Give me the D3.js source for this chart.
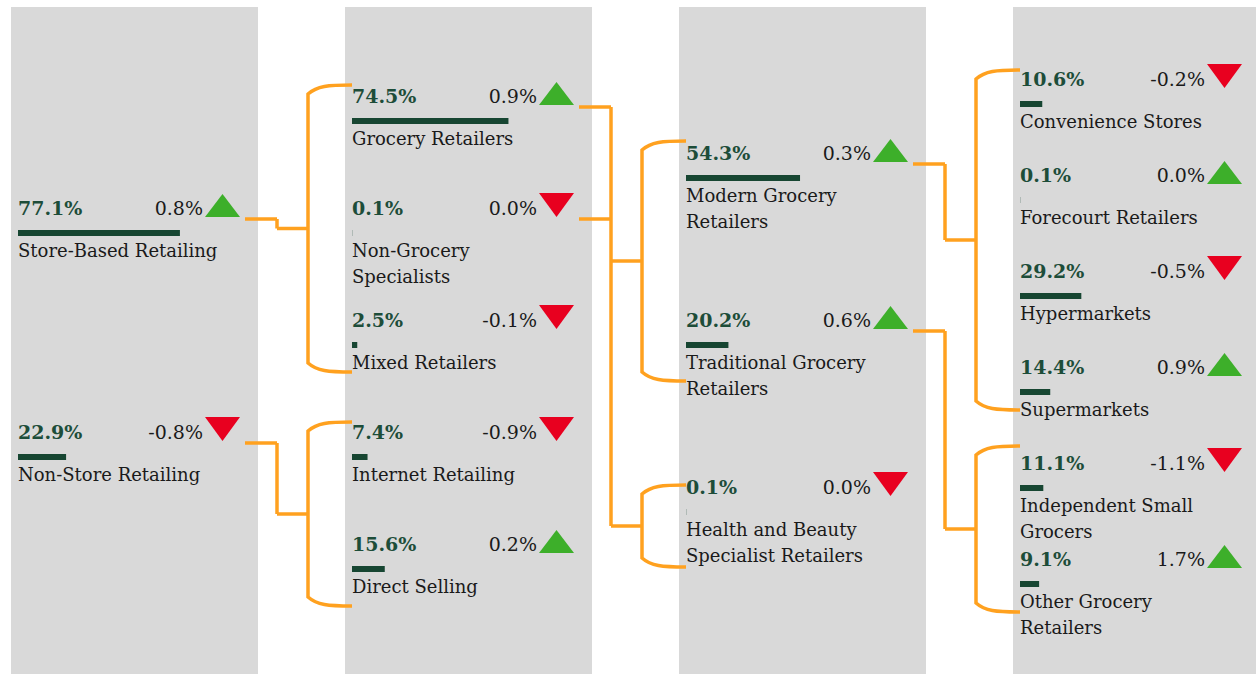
<!DOCTYPE html>
<html>
<meta charset="utf-8">
<style>
  body { margin: 0; background: #fff; }
  svg { display: block; }
  .share { font-family: "DejaVu Serif", serif; font-weight: bold; font-size: 19px; fill: #1d4d39; }
  .change { font-family: "DejaVu Serif", serif; font-size: 19px; fill: #1a1a1a; }
  .label { font-family: "DejaVu Serif", serif; font-size: 18px; fill: #1a1a1a; }
  .link { fill: none; stroke: #ffa11f; stroke-width: 3.5; }
</style>
<body>
<script src="https://cdnjs.cloudflare.com/ajax/libs/d3/7.8.5/d3.min.js"></script>
<script>
// Data, one set of arrays per column of the tree.
var col1Names = ["Store-Based Retailing", "Non-Store Retailing"];
var col1Shares = [77.1, 22.9];
var col1Changes = [0.8, -0.8];
var col1Trend = ["up", "down"];

var col2Names = ["Grocery Retailers", "Non-Grocery\nSpecialists", "Mixed Retailers", "Internet Retailing", "Direct Selling"];
var col2Shares = [74.5, 0.1, 2.5, 7.4, 15.6];
var col2Changes = [0.9, 0.0, -0.1, -0.9, 0.2];
var col2Trend = ["up", "down", "down", "down", "up"];

var col3Names = ["Modern Grocery\nRetailers", "Traditional Grocery\nRetailers", "Health and Beauty\nSpecialist Retailers"];
var col3Shares = [54.3, 20.2, 0.1];
var col3Changes = [0.3, 0.6, 0.0];
var col3Trend = ["up", "up", "down"];

var col4Names = ["Convenience Stores", "Forecourt Retailers", "Hypermarkets", "Supermarkets", "Independent Small\nGrocers", "Other Grocery\nRetailers"];
var col4Shares = [10.6, 0.1, 29.2, 14.4, 11.1, 9.1];
var col4Changes = [-0.2, 0.0, -0.5, 0.9, -1.1, 1.7];
var col4Trend = ["down", "up", "down", "up", "down", "up"];

// Which nodes feed which bracket of children: [parent column, parent rows, child rows]
var links = [
  [0, [0], [[0, 1, 2]]],
  [0, [1], [[3, 4]]],
  [1, [0, 1], [[0, 1], [2]]],
  [2, [0], [[0, 1, 2, 3]]],
  [2, [1], [[4, 5]]]
];

// Layout
var W = 1256, H = 674, colW = 247;
var cols = [
  { names: col1Names, shares: col1Shares, changes: col1Changes, trend: col1Trend, range: [215, 439] },
  { names: col2Names, shares: col2Shares, changes: col2Changes, trend: col2Trend, range: [103, 551] },
  { names: col3Names, shares: col3Shares, changes: col3Changes, trend: col3Trend, range: [160, 494] },
  { names: col4Names, shares: col4Shares, changes: col4Changes, trend: col4Trend, range: [86, 566] }
];
// bracket padding above first child / below last child, per bracket in link order
var bracketPad = [[-18, 45], [-17, 55], [-19, 54], [-9, 73], [-16, 36], [-24, 46]];

var x = d3.scaleLinear().domain([0, 3]).range([11, 1013]);
var bar = d3.scaleLinear().domain([0, 100]).range([0, 210]);
cols.forEach(function(c) {
  c.y = d3.scaleLinear().domain([0, c.names.length - 1]).range(c.range);
});

var svg = d3.select("body").append("svg").attr("width", W).attr("height", H);

// Grey column backgrounds
svg.selectAll("rect.col").data(cols).enter().append("rect")
  .attr("class", "col")
  .attr("x", function(d, i) { return x(i); })
  .attr("y", 7)
  .attr("width", colW)
  .attr("height", H - 7)
  .attr("fill", "#d9d9d9");

// Connector lines
var gLinks = svg.append("g");
var r = 9, b = 0;
links.forEach(function(l) {
  var pc = l[0], cc = pc + 1;
  var startX = x(pc) + 234;
  var elbowX = x(cc) - 68;
  var brX = x(cc) - 37;
  var endX = x(cc) + 7;
  var ys = [];
  l[1].forEach(function(p) {
    var py = cols[pc].y(p) + 4;
    ys.push(py);
    gLinks.append("path").attr("class", "link")
      .attr("d", "M" + startX + "," + py + "H" + elbowX);
  });
  l[2].forEach(function(group) {
    var pad = bracketPad[b++];
    var top = cols[cc].y(group[0]) + pad[0];
    var bot = cols[cc].y(group[group.length - 1]) + pad[1];
    var mid = (top + bot) / 2;
    ys.push(mid);
    gLinks.append("path").attr("class", "link")
      .attr("d", "M" + elbowX + "," + mid + "H" + brX);
    gLinks.append("path").attr("class", "link")
      .attr("d", "M" + endX + "," + top +
        "C" + (brX + 20) + "," + top + " " + (brX + r) + "," + (top + 1) + " " + brX + "," + (top + r) +
        "V" + (bot - r) +
        "C" + (brX + r) + "," + (bot - 1) + " " + (brX + 20) + "," + bot + " " + endX + "," + bot);
  });
  gLinks.append("path").attr("class", "link")
    .attr("d", "M" + elbowX + "," + d3.min(ys) + "V" + d3.max(ys));
});

// Nodes
cols.forEach(function(c, ci) {
  var x0 = x(ci);
  var g = svg.append("g").selectAll("g").data(c.names).enter().append("g")
    .attr("transform", function(d, i) { return "translate(" + x0 + "," + c.y(i) + ")"; });

  g.append("text").attr("class", "share")
    .attr("x", 7)
    .text(function(d, i) { return c.shares[i].toFixed(1) + "%"; });

  g.append("text").attr("class", "change")
    .attr("x", 192)
    .attr("text-anchor", "end")
    .text(function(d, i) { return c.changes[i].toFixed(1) + "%"; });

  g.append("path")
    .attr("d", function(d, i) {
      return c.trend[i] === "up"
        ? "M194,2L229,2L211.5,-21Z"
        : "M194,-22L229,-22L211.5,2Z";
    })
    .attr("fill", function(d, i) { return c.trend[i] === "up" ? "#3daf2a" : "#e8001f"; });

  g.append("rect")
    .attr("x", 7)
    .attr("y", 15)
    .attr("height", 6)
    .attr("width", function(d, i) { return bar(c.shares[i]); })
    .attr("fill", "#174632");

  g.append("text").attr("class", "label")
    .attr("x", 7)
    .attr("y", 42)
    .selectAll("tspan")
    .data(function(d) { return d.split("\n"); })
    .enter().append("tspan")
    .attr("x", 7)
    .attr("dy", function(d, i) { return i ? 26 : 0; })
    .text(function(d) { return d; });
});
</script>
</body>
</html>
